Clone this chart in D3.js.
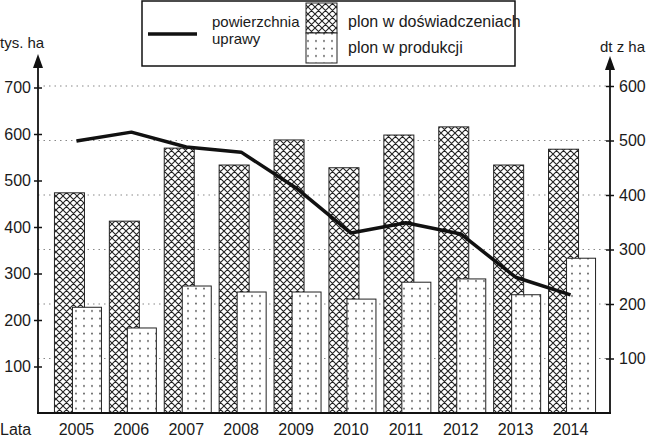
<!DOCTYPE html>
<html>
<head>
<meta charset="utf-8">
<script src="https://cdn.jsdelivr.net/npm/d3@7"></script>
<style>
  body { margin: 0; background: #fff; }
  text { font-family: "Liberation Sans", Arial, sans-serif; fill: #1a1a1a; }
</style>
</head>
<body>
<script>
var years = ["2005","2006","2007","2008","2009","2010","2011","2012","2013","2014"],
  area = [585, 604, 572, 561, 484, 387, 409, 385, 292, 254],       // powierzchnia uprawy, tys. ha
  yieldExp = [404, 352, 486, 455, 501, 450, 510, 525, 455, 484],   // plon w doświadczeniach, dt z ha
  yieldProd = [194, 156, 233, 222, 222, 209, 240, 246, 217, 284],  // plon w produkcji, dt z ha
  leftTicks = [100, 200, 300, 400, 500, 600, 700],
  rightTicks = [100, 200, 300, 400, 500, 600];

var width = 647,
  height = 439,
  svg = d3.select("body").append("svg")
    .attr("width", width)
    .attr("height", height);

var x0 = 38, x1 = 610, base = 413;

var x = d3.scaleBand().domain(years).range([51, 600]),
  yL = d3.scaleLinear().domain([0, 700]).range([base, 87.5]),
  yR = d3.scaleLinear().domain([0, 600]).range([base, 86]);

// patterns
var defs = svg.append("defs");
var hatch = defs.append("pattern").attr("id", "hatch")
  .attr("patternUnits", "userSpaceOnUse").attr("width", 7).attr("height", 7);
hatch.append("rect").attr("width", 7).attr("height", 7).attr("fill", "#fff");
hatch.append("path").attr("d", "M0,0L7,7M7,0L0,7M-1,6L1,8M6,-1L8,1M-1,1L1,-1M6,8L8,6")
  .attr("stroke", "#222").attr("stroke-width", 1.1);

var dots = defs.append("pattern").attr("id", "dots")
  .attr("patternUnits", "userSpaceOnUse").attr("width", 8).attr("height", 7.5);
dots.append("rect").attr("width", 8).attr("height", 7.5).attr("fill", "#fff");
dots.append("circle").attr("cx", 4).attr("cy", 3.5).attr("r", 0.9).attr("fill", "#444");

// gridlines (follow right axis)
svg.append("g").selectAll("line")
  .data(rightTicks)
  .enter().append("line")
  .attr("x1", x0).attr("x2", x1)
  .attr("y1", function(d){ return yR(d) }).attr("y2", function(d){ return yR(d) })
  .attr("stroke", "#888").attr("stroke-width", 1.2).attr("stroke-dasharray", "1.5,4");

// bars
var bw = 30, off = 18;
svg.append("g").selectAll("rect")
  .data(yieldExp)
  .enter().append("rect")
  .attr("x", function(d, i){ return x(years[i]) + x.bandwidth()/2 - 24 })
  .attr("y", function(d){ return yR(d) })
  .attr("width", bw)
  .attr("height", function(d){ return base - yR(d) })
  .attr("fill", "url(#hatch)").attr("stroke", "#222").attr("stroke-width", 1);

svg.append("g").selectAll("rect")
  .data(yieldProd)
  .enter().append("rect")
  .attr("x", function(d, i){ return x(years[i]) + x.bandwidth()/2 - 24 + off })
  .attr("y", function(d){ return yR(d) })
  .attr("width", bw - 1)
  .attr("height", function(d){ return base - yR(d) })
  .attr("fill", "url(#dots)").attr("stroke", "#222").attr("stroke-width", 1);

// line
var line = d3.line()
  .x(function(d, i){ return x(years[i]) + x.bandwidth()/2 - 2 })
  .y(function(d){ return yL(d) });
svg.append("path").datum(area)
  .attr("d", line)
  .attr("fill", "none").attr("stroke", "#111").attr("stroke-width", 3.5)
  .attr("stroke-linejoin", "round");

// axes
var leftAxis = svg.append("g").attr("transform", "translate(" + x0 + ",0)")
  .call(d3.axisLeft(yL).tickValues(leftTicks).tickSize(4).tickPadding(4));
var rightAxis = svg.append("g").attr("transform", "translate(" + x1 + ",0)")
  .call(d3.axisRight(yR).tickValues(rightTicks).tickSize(4).tickPadding(6));
[leftAxis, rightAxis].forEach(function(a){
  a.select(".domain").remove();
  a.selectAll(".tick line").attr("stroke", "#111").attr("stroke-width", 1.5)
    .attr("x1", -4).attr("x2", 4);
  a.selectAll(".tick text").attr("font-size", 16).attr("fill", "#1a1a1a")
    .attr("font-family", "Liberation Sans, Arial, sans-serif");
});
leftAxis.selectAll(".tick text").attr("x", -7);
rightAxis.selectAll(".tick text").attr("x", 9);

svg.append("line").attr("x1", x0).attr("x2", x0).attr("y1", base + 1).attr("y2", 64)
  .attr("stroke", "#111").attr("stroke-width", 1.8);
svg.append("line").attr("x1", x1).attr("x2", x1).attr("y1", base + 1).attr("y2", 66)
  .attr("stroke", "#111").attr("stroke-width", 1.8);
svg.append("line").attr("x1", x0 - 1).attr("x2", x1 + 1).attr("y1", base).attr("y2", base)
  .attr("stroke", "#111").attr("stroke-width", 2);
svg.append("path").attr("d", "M" + x0 + ",54L" + (x0 - 5) + ",68L" + (x0 + 5) + ",68Z").attr("fill", "#111");
svg.append("path").attr("d", "M" + x1 + ",56L" + (x1 - 5) + ",70L" + (x1 + 5) + ",70Z").attr("fill", "#111");

// x labels
svg.append("g").selectAll("text")
  .data(years)
  .enter().append("text")
  .attr("x", function(d){ return x(d) + x.bandwidth()/2 - 2 })
  .attr("y", 435)
  .attr("text-anchor", "middle")
  .attr("font-size", 16)
  .text(function(d){ return d });
svg.append("text").attr("x", 0).attr("y", 435).attr("font-size", 16).text("Lata");
svg.append("text").attr("x", 0).attr("y", 48).attr("font-size", 15).text("tys. ha");
svg.append("text").attr("x", 600).attr("y", 52).attr("font-size", 15).text("dt z ha");

// legend
var lg = svg.append("g");
lg.append("rect").attr("x", 142).attr("y", 1).attr("width", 373).attr("height", 65)
  .attr("fill", "#fff").attr("stroke", "#111").attr("stroke-width", 1.5);
lg.append("line").attr("x1", 148).attr("x2", 197).attr("y1", 34).attr("y2", 34)
  .attr("stroke", "#111").attr("stroke-width", 3.5);
lg.append("text").attr("x", 212).attr("y", 27).attr("font-size", 15).text("powierzchnia");
lg.append("text").attr("x", 212).attr("y", 44).attr("font-size", 15).text("uprawy");
lg.append("rect").attr("x", 306).attr("y", 3).attr("width", 31).attr("height", 30)
  .attr("fill", "url(#hatch)").attr("stroke", "#222");
lg.append("rect").attr("x", 306).attr("y", 33).attr("width", 31).attr("height", 30)
  .attr("fill", "url(#dots)").attr("stroke", "#222");
lg.append("text").attr("x", 348).attr("y", 27).attr("font-size", 16).text("plon w doświadczeniach");
lg.append("text").attr("x", 348).attr("y", 53).attr("font-size", 16).text("plon w produkcji");
</script>
</body>
</html>
